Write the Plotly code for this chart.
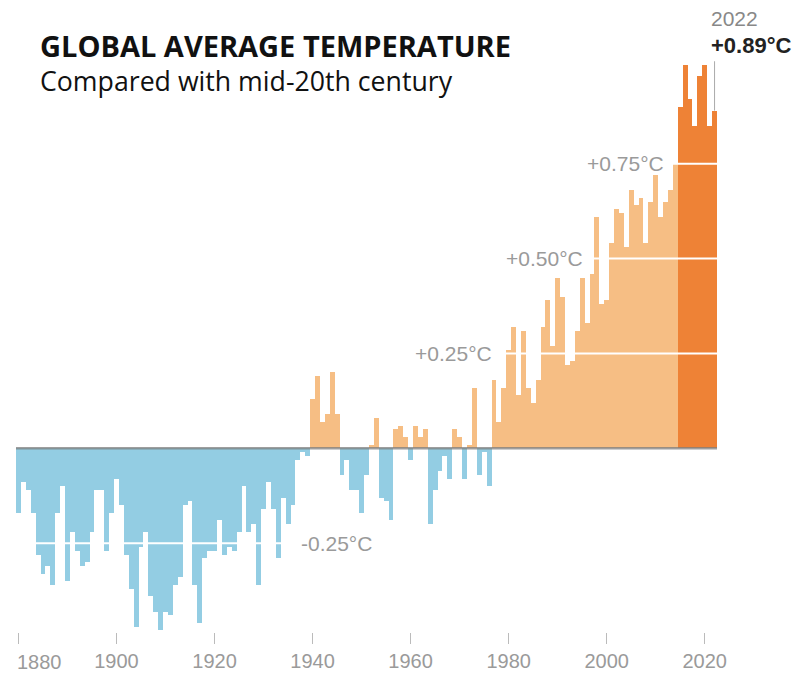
import plotly.graph_objects as go

# ---- data (annual global temperature anomaly, °C vs mid-20th century) ----
years = list(range(1880, 2023))
anomaly = [
    -0.17, -0.09, -0.11, -0.17, -0.28, -0.33, -0.31, -0.36, -0.17, -0.10,  # 1880s
    -0.35, -0.22, -0.27, -0.31, -0.30, -0.22, -0.11, -0.11, -0.27, -0.17,  # 1890s
    -0.08, -0.15, -0.28, -0.37, -0.47, -0.26, -0.22, -0.39, -0.43, -0.48,  # 1900s
    -0.43, -0.44, -0.36, -0.34, -0.15, -0.14, -0.36, -0.46, -0.29, -0.27,  # 1910s
    -0.27, -0.19, -0.28, -0.26, -0.27, -0.22, -0.10, -0.22, -0.20, -0.36,  # 1920s
    -0.16, -0.09, -0.16, -0.29, -0.13, -0.20, -0.15, -0.03, -0.01, -0.02,  # 1930s
    0.13, 0.19, 0.07, 0.09, 0.20, 0.09, -0.07, -0.03, -0.11, -0.11,        # 1940s
    -0.17, -0.07, 0.01, 0.08, -0.13, -0.14, -0.19, 0.05, 0.06, 0.03,       # 1950s
    -0.03, 0.06, 0.03, 0.05, -0.20, -0.11, -0.06, -0.02, -0.08, 0.05,      # 1960s
    0.03, -0.08, 0.01, 0.16, -0.07, -0.01, -0.10, 0.18, 0.07, 0.16,        # 1970s
    0.26, 0.32, 0.14, 0.31, 0.16, 0.12, 0.18, 0.32, 0.39, 0.27,            # 1980s
    0.45, 0.40, 0.22, 0.23, 0.31, 0.45, 0.33, 0.46, 0.61, 0.38,            # 1990s
    0.39, 0.54, 0.63, 0.62, 0.53, 0.68, 0.64, 0.66, 0.54, 0.65,            # 2000s
    0.72, 0.61, 0.65, 0.68, 0.75, 0.90, 1.01, 0.92, 0.85, 0.98,            # 2010s
    1.01, 0.85, 0.89,                                                      # 2020s
]
assert len(years) == len(anomaly)

highlight_from = 2015
tick_years = [1880, 1900, 1920, 1940, 1960, 1980, 2000, 2020]
ref_levels = [-0.25, 0.25, 0.50, 0.75]
ref_labels = ["-0.25°C", "+0.25°C", "+0.50°C", "+0.75°C"]
ref_label_x = [1952.5, 1977.0, 1995.5, 2012.0]
latest_year = years[-1]
latest_value = anomaly[-1]

# ---- styles ----
BLUE = "#93cde3"
LIGHT_ORANGE = "#f6be84"
DARK_ORANGE = "#ee8236"
GREY_TXT = "#9a9a9a"
TICK_FONT = dict(family="Liberation Sans", size=20, color=GREY_TXT)

colors = []
for yr, v in zip(years, anomaly):
    if yr >= highlight_from:
        colors.append(DARK_ORANGE)
    elif v >= 0:
        colors.append(LIGHT_ORANGE)
    else:
        colors.append(BLUE)

fig = go.Figure()
fig.add_trace(go.Bar(
    x=years, y=anomaly,
    marker=dict(color=colors, line=dict(width=0)),
    hoverinfo="x+y",
))

# white reference lines drawn over the bars
for lv in ref_levels:
    fig.add_shape(type="line", xref="paper", x0=0, x1=1, yref="y", y0=lv, y1=lv,
                  line=dict(color="white", width=2), layer="above")
# zero baseline
fig.add_shape(type="line", xref="paper", x0=0, x1=1, yref="y", y0=0, y1=0,
              line=dict(color="rgba(125,125,125,0.75)", width=2.5), layer="above")
# pointer to latest bar
fig.add_shape(type="line", xref="x", x0=latest_year, x1=latest_year, yref="y",
              y0=latest_value, y1=1.02, line=dict(color="#aaaaaa", width=1), layer="above")

annotations = []
for lv, txt, xx in zip(ref_levels, ref_labels, ref_label_x):
    annotations.append(dict(x=xx, y=lv, xref="x", yref="y", text=txt, showarrow=False,
                            xanchor="right", yanchor="middle",
                            font=dict(family="Liberation Sans", size=21, color=GREY_TXT)))

annotations.append(dict(x=latest_year, y=1.037, xref="x", yref="paper", text=str(latest_year),
                        showarrow=False, xanchor="left", yanchor="middle", xshift=-6,
                        font=dict(family="Liberation Sans", size=21, color="#888888")))
annotations.append(dict(x=latest_year, y=0.991, xref="x", yref="paper",
                        text="<b>+%.2f°C</b>" % latest_value,
                        showarrow=False, xanchor="left", yanchor="middle", xshift=-6,
                        font=dict(family="Liberation Sans", size=22, color="#222222")))

# first year label sits inside the left edge, aligned to its tick
annotations.append(dict(x=tick_years[0], y=0, xref="x", yref="paper", text=str(tick_years[0]),
                        showarrow=False, xanchor="left", yanchor="top", xshift=-3, yshift=-17,
                        font=TICK_FONT))

annotations.append(dict(x=0.0314, y=0.99, xref="paper", yref="paper",
                        text="<b>GLOBAL AVERAGE TEMPERATURE</b>", showarrow=False,
                        xanchor="left", yanchor="middle",
                        font=dict(family="Open Sans", size=29, color="#111111")))
annotations.append(dict(x=0.0314, y=0.932, xref="paper", yref="paper",
                        text="Compared with mid-20th century", showarrow=False,
                        xanchor="left", yanchor="middle",
                        font=dict(family="Open Sans", size=26.7, color="#111111")))

tick_text = [""] + [str(t) for t in tick_years[1:]]

# the page body adds an 8px offset, so the figure is 8px smaller on each axis
fig.update_layout(
    width=792, height=668,
    margin=dict(l=8, r=83, t=32, b=44),
    paper_bgcolor="white", plot_bgcolor="white",
    bargap=0,
    showlegend=False,
    annotations=annotations,
    xaxis=dict(range=[1879.5, 2022.5], tickvals=tick_years, ticktext=tick_text,
               ticks="outside", ticklen=11, tickwidth=1, tickcolor="#bbbbbb",
               showline=False, showgrid=False, zeroline=False, automargin=False,
               tickfont=TICK_FONT),
    yaxis=dict(range=[-0.484, 1.076], showticklabels=False, showgrid=False,
               zeroline=False, showline=False, ticks="", automargin=False),
)

fig.write_html("out.html")
